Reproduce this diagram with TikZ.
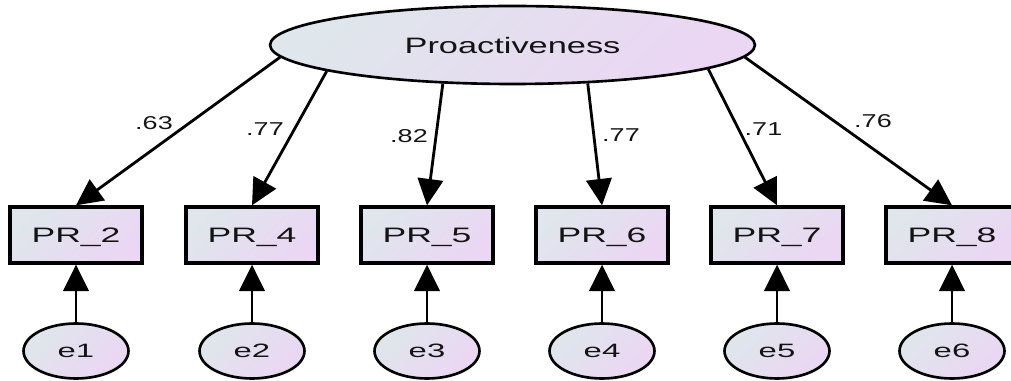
\documentclass[tikz,border=0pt]{standalone}
\usepackage{fontspec}
\usepackage{graphicx}
\setmainfont{Liberation Sans}
\usetikzlibrary{shapes.geometric,arrows.meta}

\definecolor{shadeA}{HTML}{DFE6EC}
\definecolor{shadeB}{HTML}{EBD6F3}
\definecolor{inkgray}{HTML}{141414}

% horizontally widened text
\newcommand\widetext[2]{\scalebox{#1}[1]{#2}}

\tikzset{
  gradfill/.style={left color=shadeA, right color=shadeB, shading angle=45},
  latent/.style={ellipse, draw, line width=1.5pt, gradfill, inner sep=0pt,
    minimum width=9.7cm, minimum height=1.56cm, text depth=0pt,
    font=\fontsize{12.7}{14}\selectfont, text=inkgray},
  indicator/.style={rectangle, draw, line width=1.9pt, gradfill, inner sep=0pt,
    minimum width=2.64cm, minimum height=1.12cm, text depth=0pt,
    font=\fontsize{11.9}{14}\selectfont, text=inkgray},
  errterm/.style={ellipse, draw, line width=1.5pt, gradfill, inner sep=0pt,
    minimum width=2.1cm, minimum height=1.1cm, text depth=0pt,
    font=\fontsize{11}{13}\selectfont, text=inkgray},
  loading/.style={inner sep=0pt, font=\fontsize{10.6}{12}\selectfont, text=inkgray},
  path/.style={line width=1.6pt, -{Triangle[length=15pt,width=14.5pt]}},
}

\begin{document}
\begin{tikzpicture}[x=0.02cm, y=-0.02cm]
  \useasboundingbox (0,0) rectangle (1011,381);

  % latent factor
  \node[latent] (P) at (512.5,45) {\widetext{1.54}{Proactiveness}};

  % observed indicators
  \node[indicator] (PR2) at (76,235)  {\widetext{1.7}{PR\_2}};
  \node[indicator] (PR4) at (252,235) {\widetext{1.7}{PR\_4}};
  \node[indicator] (PR5) at (427,235) {\widetext{1.7}{PR\_5}};
  \node[indicator] (PR6) at (602,235) {\widetext{1.7}{PR\_6}};
  \node[indicator] (PR7) at (777,235) {\widetext{1.7}{PR\_7}};
  \node[indicator] (PR8) at (952,235) {\widetext{1.7}{PR\_8}};

  % error terms
  \node[errterm] (e1) at (76,351)  {\widetext{1.7}{e1}};
  \node[errterm] (e2) at (252,351) {\widetext{1.7}{e2}};
  \node[errterm] (e3) at (427,351) {\widetext{1.7}{e3}};
  \node[errterm] (e4) at (602,351) {\widetext{1.7}{e4}};
  \node[errterm] (e5) at (777,351) {\widetext{1.7}{e5}};
  \node[errterm] (e6) at (952,351) {\widetext{1.7}{e6}};

  % factor loadings
  \draw[path] (P.183)   -- (PR2.north);
  \draw[path] (P.188)   -- (PR4.north);
  \draw[path] (P.209)   -- (PR5.north);
  \draw[path] (P.-27.6) -- (PR6.north);
  \draw[path] (P.-7.8)  -- (PR7.north);
  \draw[path] (P.-3.3)  -- (PR8.north);

  % error paths
  \foreach \e/\b in {e1/PR2, e2/PR4, e3/PR5, e4/PR6, e5/PR7, e6/PR8}
    \draw[path] (\e.north) -- (\b.south);

  % loading values
  \node[loading] (l1) at (154,123)   {\widetext{1.45}{.63}};
  \node[loading] (l2) at (265,129)   {\widetext{1.45}{.77}};
  \node[loading] (l3) at (409,136)   {\widetext{1.45}{.82}};
  \node[loading] (l4) at (621,135)   {\widetext{1.45}{.77}};
  \node[loading] (l5) at (763.5,129) {\widetext{1.45}{.71}};
  \node[loading] (l6) at (873,121.5) {\widetext{1.45}{.76}};
\end{tikzpicture}
\end{document}
